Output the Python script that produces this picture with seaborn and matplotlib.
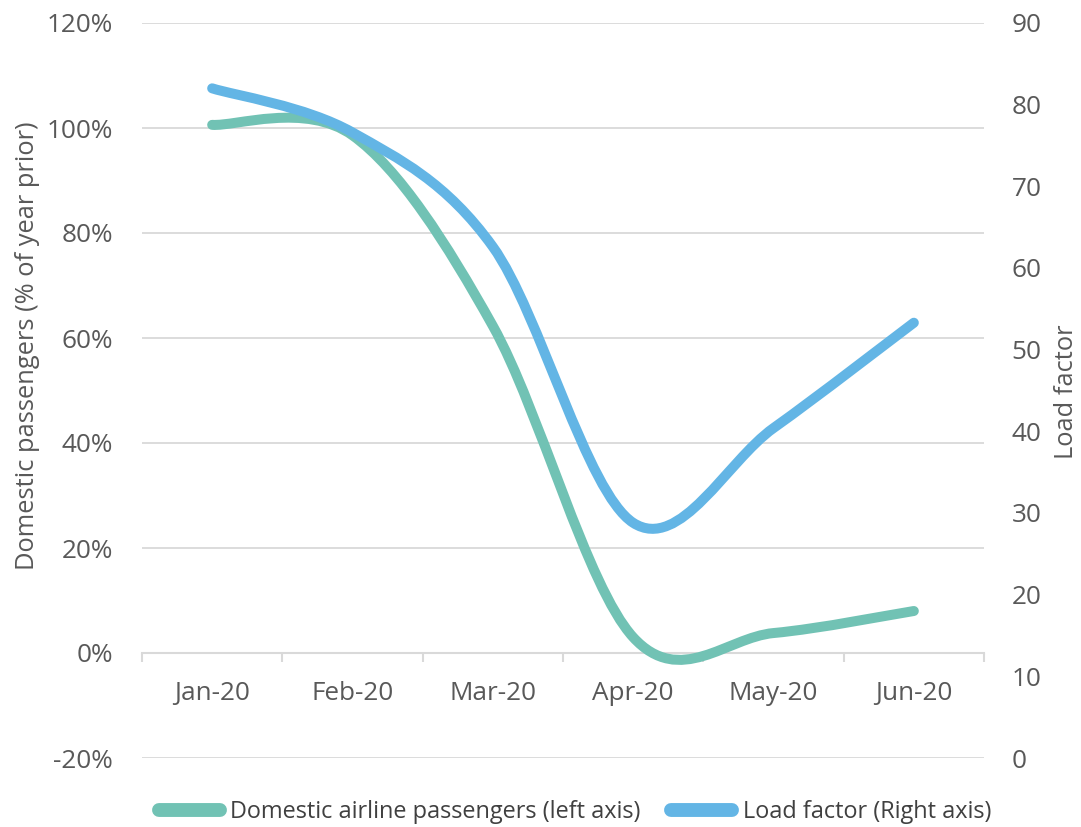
import numpy as np
import matplotlib
matplotlib.use("Agg")
import matplotlib.pyplot as plt
from matplotlib.path import Path
from matplotlib.patches import PathPatch
from matplotlib.lines import Line2D
from matplotlib.ticker import FixedLocator, FuncFormatter, NullFormatter
import seaborn as sns

# Monthly values, 2020
months = ["Jan-20", "Feb-20", "Mar-20", "Apr-20", "May-20", "Jun-20"]
passengers_pct = [100.6, 98.6, 62.3, 3.0, 3.8, 8.0]   # % of year prior (left axis)
load_factor = [82.0, 76.6, 62.6, 28.8, 40.4, 53.3]     # load factor (right axis)

left_ticks = [-20, 0, 20, 40, 60, 80, 100, 120]
right_ticks = [0, 10, 20, 30, 40, 50, 60, 70, 80, 90]

series_labels = ["Domestic airline passengers (left axis)", "Load factor (Right axis)"]
green = "#71C2B4"
blue = "#63B5E5"
text_grey = "#595959"
grid_grey = "#D9D9D9"

sns.set_theme(style="white")
plt.rcParams["font.family"] = ["Open Sans", "DejaVu Sans"]

tick_size = 18.8
title_size = 18.4
legend_size = 16.9


def smooth_path(xs, ys):
    """Cubic Bezier path through the points (Catmull-Rom style smoothing)."""
    pts = np.column_stack([xs, ys]).astype(float)
    n = len(pts)
    verts = [pts[0]]
    codes = [Path.MOVETO]
    for i in range(n - 1):
        p0 = pts[max(i - 1, 0)]
        p1 = pts[i]
        p2 = pts[i + 1]
        p3 = pts[min(i + 2, n - 1)]
        c1 = p1 + (p2 - p0) / 6.0
        c2 = p2 - (p3 - p1) / 6.0
        verts += [c1, c2, p2]
        codes += [Path.CURVE4] * 3
    return Path(verts, codes)


fig = plt.figure(figsize=(10.81, 8.27), dpi=100)
ax = fig.add_axes([142 / 1081, 1 - 758 / 827, 842 / 1081, 735 / 827])
ax2 = ax.twinx()

x = np.arange(len(months))

ax.set_xlim(-0.5, len(months) - 0.5)
ax.set_ylim(left_ticks[0], left_ticks[-1])
ax2.set_ylim(right_ticks[0], right_ticks[-1])

# gridlines from the left axis
ax.set_yticks(left_ticks)
ax.yaxis.grid(True, color=grid_grey, linewidth=1.3)
ax.xaxis.grid(False)
ax.set_axisbelow(True)
ax.yaxis.set_major_formatter(FuncFormatter(lambda v, p: f"{v:.0f}%"))
ax.tick_params(axis="y", length=0, pad=21, labelsize=tick_size, labelcolor=text_grey)

ax2.set_yticks(right_ticks)
ax2.tick_params(axis="y", length=0, pad=20, labelsize=tick_size, labelcolor=text_grey)
ax2.grid(False)

# category axis sits on the 0% line, ticks at category boundaries
for a in (ax, ax2):
    for s in ("top", "left", "right"):
        a.spines[s].set_visible(False)
ax2.spines["bottom"].set_visible(False)
ax.spines["bottom"].set_position(("data", 0))
ax.spines["bottom"].set_color(grid_grey)
ax.spines["bottom"].set_linewidth(1.5)
ax.xaxis.set_major_locator(FixedLocator(np.arange(-0.5, len(months), 1.0)))
ax.xaxis.set_major_formatter(NullFormatter())
ax.xaxis.set_minor_locator(FixedLocator(x))
ax.set_xticklabels(months, minor=True)
ax.tick_params(axis="x", which="major", direction="out", length=6.5, width=1.5,
               color=grid_grey, bottom=True)
ax.tick_params(axis="x", which="minor", length=0, pad=20, labelsize=tick_size,
               labelcolor=text_grey, bottom=True)

# smoothed series lines
lw = 7.2
ax.add_patch(PathPatch(smooth_path(x, passengers_pct), fill=False, edgecolor=green,
                       linewidth=lw, capstyle="round", joinstyle="round", zorder=3))
ax2.add_patch(PathPatch(smooth_path(x, load_factor), fill=False, edgecolor=blue,
                        linewidth=lw, capstyle="round", joinstyle="round", zorder=3))

# axis titles
ax.set_ylabel("Domestic passengers (% of year prior)", fontsize=title_size, color=text_grey)
ax.yaxis.label.set_va("center")
ax.yaxis.set_label_coords((28 - 142) / 842, (758 - 346) / 735)
ax2.set_ylabel("Load factor", fontsize=title_size, color=text_grey)
ax2.yaxis.label.set_va("center")
ax2.yaxis.set_label_coords((1066 - 142) / 842, (758 - 392) / 735)

handles = [Line2D([0], [0], color=green, linewidth=10, solid_capstyle="round"),
           Line2D([0], [0], color=blue, linewidth=10, solid_capstyle="round")]
fig.legend(handles, series_labels, loc="center", bbox_to_anchor=(575 / 1081, 1 - 812 / 827),
           ncol=2, frameon=False, fontsize=legend_size, handlelength=2.6, handletextpad=0.45,
           columnspacing=1.3, labelcolor="#404040", borderaxespad=0, borderpad=0)

fig.savefig("out.png", dpi=100, facecolor="white")
